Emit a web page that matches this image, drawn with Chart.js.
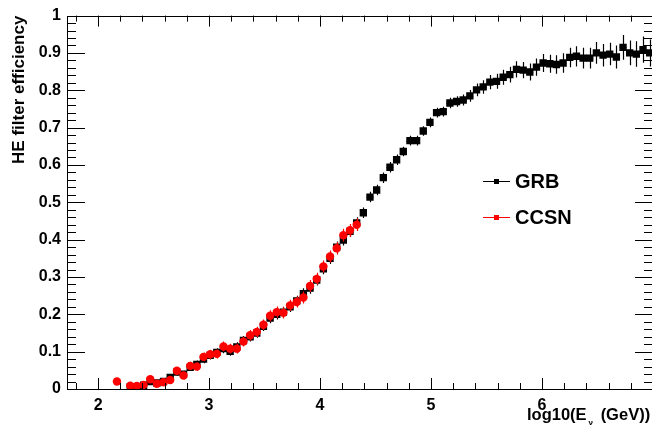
<!DOCTYPE html>
<html><head><meta charset="utf-8">
<script src="https://cdn.jsdelivr.net/npm/chart.js@4.4.1/dist/chart.umd.min.js"></script>
<style>
html,body{margin:0;padding:0;background:#fff;overflow:hidden;width:652px;height:427px}
#wrap{position:absolute;left:0;top:0;width:660px;height:427px}
</style>
</head><body><div id="wrap"><canvas id="c" width="660" height="427"></canvas></div>
<script>
// log10(E_nu / GeV) bin centres
const binCenters = [2.17,2.23,2.29,2.35,2.41,2.47,2.53,2.59,2.65,2.71,2.77,2.83,2.89,2.95,3.01,3.07,3.13,3.19,3.25,3.31,3.37,3.43,3.49,3.55,3.61,3.67,3.73,3.79,3.85,3.91,3.97,4.03,4.09,4.15,4.21,4.27,4.33,4.39,4.45,4.51,4.57,4.63,4.69,4.75,4.81,4.87,4.93,4.99,5.05,5.11,5.17,5.23,5.29,5.35,5.41,5.47,5.53,5.59,5.65,5.71,5.77,5.83,5.89,5.95,6.01,6.07,6.13,6.19,6.25,6.31,6.37,6.43,6.49,6.55,6.61,6.67,6.73,6.79,6.85,6.91,6.97];
const grbEff = [null,null,
  .006,.003,.010,.020,.016,.020,.031,.045,.040,.058,.066,.080,.090,.098,.108,.101,.113,.130,.140,.150,.168,.190,.200,.206,.220,.236,.255,.270,.292,.322,.350,.380,.399,.422,.445,
  .472,.514,.533,.566,.594,.614,.636,.665,.665,.691,.714,.740,.743,.766,.770,.774,.785,.801,.809,.822,.824,.835,.842,.856,.854,.849,.862,.873,.871,.869,.873,.888,.891,.886,.886,.900,.894,.897,.889,.915,.900,.897,.909,.900];
const grbErr = [null,null,
  .006,.005,.006,.007,.007,.007,.008,.009,.009,.010,.010,.011,.011,.011,.012,.012,.012,.012,.013,.013,.013,.014,.014,.014,.014,.014,.015,.015,.015,.015,.015,.015,.015,.015,.015,
  .014,.014,.014,.014,.014,.014,.013,.013,.013,.013,.013,.013,
  .013,.014,.014,.015,.016,.017,.018,.019,.020,.020,.021,.022,
  .022,.023,.023,.024,.024,.025,.026,.026,.027,.028,.028,.029,.030,.030,.031,.033,.033,.034,.035,.036];
const ccsnEff = [.020,null,.009,.008,.011,.026,.014,.018,.024,.049,.036,.062,.060,.086,.093,.094,.114,.108,.108,.127,.144,.153,.172,.196,.206,.204,.224,.233,.245,.276,.295,.328,.355,.377,.412,.425,.440];
const ccsnErr = [.008,null,.006,.006,.007,.008,.008,.008,.009,.010,.010,.011,.011,.012,.012,.012,.013,.013,.013,.013,.014,.014,.014,.015,.015,.015,.015,.015,.016,.016,.016,.016,.016,.017,.017,.017,.017];
const binHalfWidth = 0.03;
const seriesNames = ['GRB','CCSN'];
const seriesColors = ['#000000','#ff0000'];
const xTickValues = [2,3,4,5,6];
const xTickLabels = ['2','3','4','5','6'];
const yTickValues = [0,0.1,0.2,0.3,0.4,0.5,0.6,0.7,0.8,0.9,1];
const yTickLabels = ['0','0.1','0.2','0.3','0.4','0.5','0.6','0.7','0.8','0.9','1'];
const yTitle = 'HE filter efficiency';
const xTitleParts = ['log10(E', '\u03BD', ' (GeV))'];

const FONT = '"Liberation Sans", Arial, Helvetica, sans-serif';

function toPoints(vals){
  const out=[];
  vals.forEach((v,i)=>{ if(v!==null) out.push({x:binCenters[i], y:v, i:i}); });
  return out;
}

const errorBars = {
  id:'errorBars',
  beforeDatasetDraw(chart,args){
    const ds = chart.data.datasets[args.index];
    const err = ds.errY;
    const xs = chart.scales.x, ys = chart.scales.y;
    const ctx = chart.ctx;
    ctx.save();
    ctx.beginPath();
    ctx.rect(chart.chartArea.left, chart.chartArea.top, chart.chartArea.right-chart.chartArea.left, chart.chartArea.bottom-chart.chartArea.top);
    ctx.clip();
    ctx.strokeStyle = ds.borderColor;
    ctx.lineWidth = 1.2;
    ctx.beginPath();
    ds.data.forEach(p=>{
      const e = err[p.i];
      const px = Math.round(xs.getPixelForValue(p.x))+0.5;
      const py = Math.round(ys.getPixelForValue(p.y))+0.5;
      ctx.moveTo(px, ys.getPixelForValue(p.y - e));
      ctx.lineTo(px, ys.getPixelForValue(p.y + e));
      ctx.moveTo(xs.getPixelForValue(p.x - binHalfWidth), py);
      ctx.lineTo(xs.getPixelForValue(p.x + binHalfWidth), py);
    });
    ctx.stroke();
    ctx.restore();
  }
};

const frameTicks = {
  id:'frameTicks',
  afterDraw(chart){
    const {left,right,top,bottom} = chart.chartArea;
    const xs = chart.scales.x, ys = chart.scales.y;
    const ctx = chart.ctx;
    ctx.save();
    ctx.strokeStyle='#000'; ctx.lineWidth=1;
    ctx.beginPath();
    ctx.rect(Math.round(left)+0.5, Math.round(top)+0.5, Math.round(right-left), Math.round(bottom-top));
    ctx.stroke();
    ctx.beginPath();
    for(let k=0;k<=50;k++){
      const v = k/50;
      const py = Math.round(ys.getPixelForValue(v))+0.5;
      const len = (k%5===0)?18:9;
      ctx.moveTo(left, py); ctx.lineTo(left+len, py);
      ctx.moveTo(right, py); ctx.lineTo(right-len, py);
    }
    for(let k=9;k<=35;k++){
      const v = k/5;
      if(v < xs.min || v > xs.max) continue;
      const px = Math.round(xs.getPixelForValue(v))+0.5;
      const len = (k%5===0)?11:6;
      ctx.moveTo(px, bottom); ctx.lineTo(px, bottom-len);
      ctx.moveTo(px, top); ctx.lineTo(px, top+len);
    }
    ctx.stroke();

    // legend
    const legY = [181, 217];
    seriesNames.forEach((name,i)=>{
      ctx.strokeStyle = seriesColors[i];
      ctx.fillStyle = seriesColors[i];
      ctx.beginPath();
      ctx.moveTo(483, legY[i]+0.5); ctx.lineTo(510, legY[i]+0.5);
      ctx.stroke();
      ctx.fillRect(494, legY[i]-2, 5, 5);
      ctx.fillStyle='#000';
      ctx.font = 'bold 20px '+FONT;
      ctx.textBaseline='middle';
      ctx.textAlign='left';
      ctx.fillText(name, 515, legY[i]+1);
    });

    // x title with subscript
    ctx.fillStyle='#000';
    ctx.textBaseline='alphabetic';
    ctx.textAlign='left';
    let x0 = 527; const yb = 420;
    ctx.font = 'bold 16.5px '+FONT;
    ctx.fillText(xTitleParts[0], x0, yb);
    x0 += ctx.measureText(xTitleParts[0]).width + 2;
    ctx.font = 'bold 8px '+FONT;
    ctx.fillText(xTitleParts[1], x0, yb+5);
    x0 += ctx.measureText(xTitleParts[1]).width + 3;
    ctx.font = 'bold 16.5px '+FONT;
    ctx.fillText(xTitleParts[2], x0, yb);
    ctx.restore();
  }
};

new Chart(document.getElementById('c'), {
  type:'scatter',
  data:{datasets:[
    {label:seriesNames[0], data:toPoints(grbEff), errY:grbErr, order:2,
     backgroundColor:seriesColors[0], borderColor:seriesColors[0], pointStyle:'rect',
     pointRadius:5.2, pointHoverRadius:5.2, pointBorderWidth:0, showLine:false},
    {label:seriesNames[1], data:toPoints(ccsnEff), errY:ccsnErr, order:1,
     backgroundColor:seriesColors[1], borderColor:seriesColors[1], pointStyle:'circle',
     pointRadius:4.2, pointHoverRadius:4.2, pointBorderWidth:0, showLine:false}
  ]},
  options:{
    responsive:false, animation:false, devicePixelRatio:1,
    layout:{padding:{left:0, top:13, right:7, bottom:0}},
    plugins:{legend:{display:false}, tooltip:{enabled:false}},
    events:[],
    scales:{
      x:{type:'linear', min:1.72, max:7,
         afterBuildTicks(s){ s.ticks = xTickValues.map(v=>({value:v})); },
         afterFit(s){ s.height = 38; },
         grid:{display:false, drawTicks:false}, border:{display:false},
         ticks:{callback:(v,i)=>xTickLabels[i], color:'#000', padding:7, maxRotation:0, autoSkip:false,
                font:{family:FONT, size:16, weight:'bold'}}},
      y:{type:'linear', min:0, max:1,
         afterBuildTicks(s){ s.ticks = yTickValues.map(v=>({value:v})); },
         afterFit(s){ s.width = 67; },
         grid:{display:false, drawTicks:false}, border:{display:false},
         title:{display:true, text:yTitle, align:'end', color:'#000', padding:{top:9,bottom:0},
                font:{family:FONT, size:17, weight:'bold'}},
         ticks:{callback:(v,i)=>yTickLabels[i], color:'#000', padding:6, autoSkip:false,
                font:{family:FONT, size:16, weight:'bold'}}}
    }
  },
  plugins:[errorBars, frameTicks]
});
</script>
</body></html>
